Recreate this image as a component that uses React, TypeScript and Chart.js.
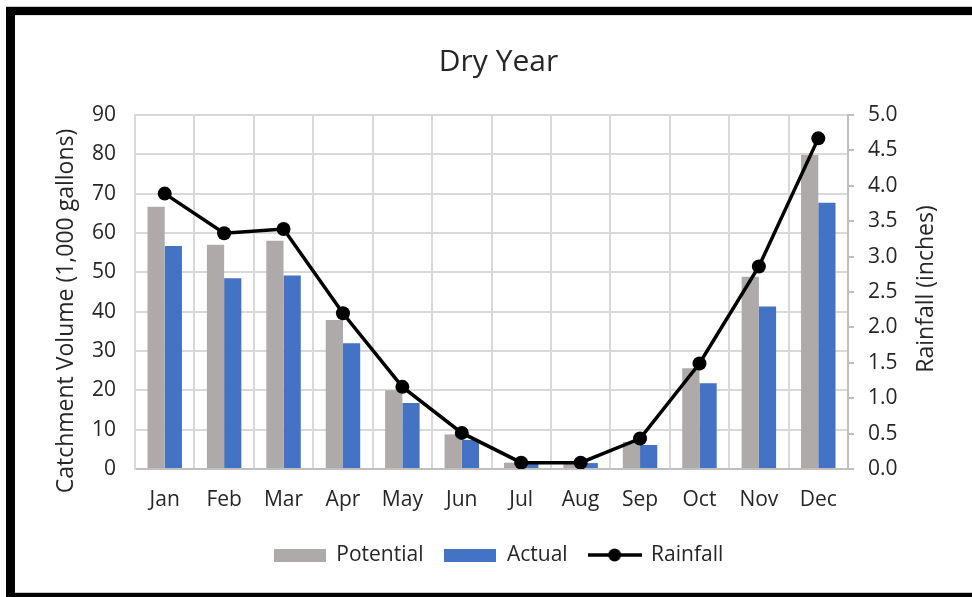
import React, { useEffect, useRef } from "react";
import { Chart, registerables } from "chart.js";

Chart.register(...registerables);

const months = ["Jan", "Feb", "Mar", "Apr", "May", "Jun", "Jul", "Aug", "Sep", "Oct", "Nov", "Dec"];
const potential = [66.7, 57, 58, 37.9, 20, 8.8, 1.6, 1.6, 6.9, 25.6, 48.9, 79.8];
const actual = [56.7, 48.5, 49.2, 32, 16.8, 7.4, 1.3, 1.5, 6.1, 21.8, 41.3, 67.7];
const rainfall = [3.89, 3.33, 3.39, 2.2, 1.16, 0.51, 0.09, 0.09, 0.43, 1.49, 2.86, 4.67];

const chartTitle = "Dry Year";
const leftTitle = "Catchment Volume (1,000 gallons)";
const rightTitle = "Rainfall (inches)";

const FONT = "'Open Sans', 'Noto Sans', sans-serif";
const TEXT = "#262626";
const GRID = "#D9D9D9";
const GRAY = "#ADAAA9";
const BLUE = "#4472C4";

function rectImage(color: string) {
  const c = document.createElement("canvas");
  c.width = 52;
  c.height = 13;
  const x = c.getContext("2d")!;
  x.fillStyle = color;
  x.fillRect(0, 0, 52, 13);
  return c;
}
function lineImage() {
  const c = document.createElement("canvas");
  c.width = 54;
  c.height = 14;
  const x = c.getContext("2d")!;
  x.strokeStyle = "#000";
  x.lineWidth = 3.5;
  x.beginPath();
  x.moveTo(0, 7);
  x.lineTo(54, 7);
  x.stroke();
  x.fillStyle = "#000";
  x.beginPath();
  x.arc(27, 7, 6.5, 0, Math.PI * 2);
  x.fill();
  return c;
}

const axisTitles = {
  id: "axisTitles",
  afterDraw(chart: any) {
    const { ctx, chartArea } = chart;
    const mid = (chartArea.top + chartArea.bottom) / 2;
    ctx.save();
    ctx.fillStyle = TEXT;
    ctx.font = `23px ${FONT}`;
    ctx.textAlign = "center";
    ctx.textBaseline = "middle";
    ctx.translate(chartArea.left - 69, mid + 19);
    ctx.rotate(-Math.PI / 2);
    ctx.fillText(leftTitle, 0, 0);
    ctx.restore();
    ctx.save();
    ctx.fillStyle = TEXT;
    ctx.font = `23px ${FONT}`;
    ctx.textAlign = "center";
    ctx.textBaseline = "middle";
    ctx.translate(chartArea.right + 78, mid - 3);
    ctx.rotate(-Math.PI / 2);
    ctx.fillText(rightTitle, 0, 0);
    ctx.restore();
  },
};

export default function App() {
  const ref = useRef<HTMLCanvasElement>(null);
  useEffect(() => {
    const imgs = [rectImage(GRAY), rectImage(BLUE), lineImage()];
    const chart = new Chart(ref.current!, {
      type: "bar",
      data: {
        labels: months,
        datasets: [
          { type: "bar", label: "Potential", data: potential, backgroundColor: GRAY, yAxisID: "y", order: 1, categoryPercentage: 0.58, barPercentage: 1 },
          { type: "bar", label: "Actual", data: actual, backgroundColor: BLUE, yAxisID: "y", order: 1, categoryPercentage: 0.58, barPercentage: 1 },
          { type: "line", label: "Rainfall", data: rainfall, borderColor: "#000", backgroundColor: "#000", borderWidth: 3.5, pointRadius: 7, pointBorderWidth: 0, pointBackgroundColor: "#000", yAxisID: "y1", order: 0 } as any,
        ],
      },
      options: {
        animation: false,
        responsive: false,
        maintainAspectRatio: false,
        layout: { padding: { left: 10, right: 0, top: 0, bottom: 16.5 } },
        plugins: {
          title: {
            display: true,
            text: chartTitle,
            color: TEXT,
            font: { family: FONT, size: 30, weight: "normal" },
            padding: { top: 28, bottom: 35 },
          },
          legend: {
            position: "bottom",
            labels: {
              usePointStyle: true,
              pointStyleWidth: 52,
              boxHeight: 14,
              padding: 21,
              color: TEXT,
              font: { family: FONT, size: 21 },
              generateLabels: (c: any) =>
                c.data.datasets.map((d: any, i: number) => ({
                  text: d.label,
                  pointStyle: imgs[i],
                  fillStyle: "transparent",
                  strokeStyle: "transparent",
                  lineWidth: 0,
                  fontColor: TEXT,
                  datasetIndex: i,
                  hidden: false,
                })),
            },
          },
          tooltip: { enabled: false },
        },
        scales: {
          x: {
            offset: true,
            grid: { offset: true, color: GRID, lineWidth: 2, drawTicks: false },
            border: { color: "#BFBFBF", width: 2 },
            ticks: { color: TEXT, font: { family: FONT, size: 21 }, padding: 18, maxRotation: 0 },
            afterFit: (s: any) => { s.height = 54.5; },
          },
          y: {
            position: "left",
            min: 0,
            max: 90,
            ticks: { stepSize: 10, color: TEXT, font: { family: FONT, size: 21 }, padding: 19 },
            grid: { color: GRID, lineWidth: 2, drawTicks: false },
            border: { color: GRID, width: 2 },
            afterFit: (s: any) => { s.width = 110; },
          },
          y1: {
            position: "right",
            min: 0,
            max: 5,
            ticks: { stepSize: 0.5, color: TEXT, font: { family: FONT, size: 21 }, padding: 14, callback: (v: any) => Number(v).toFixed(1) },
            grid: { drawOnChartArea: false, drawTicks: true, tickLength: 6, color: "#BFBFBF", lineWidth: 2 },
            border: { color: "#BFBFBF", width: 2 },
            afterFit: (s: any) => { s.width = 124; },
          },
        },
      },
      plugins: [axisTitles],
    });
    return () => chart.destroy();
  }, []);

  return (
    <div style={{ position: "absolute", left: 0, top: 0, width: 972, height: 597, overflow: "hidden", background: "#fff" }}>
      <div style={{ position: "absolute", left: 6, top: 6, width: 1000, height: 1, background: "#C8C8C8" }} />
      <div style={{ position: "absolute", left: 6, top: 7, width: 1000, height: 8, background: "#000" }} />
      <div style={{ position: "absolute", left: 6, top: 7, width: 9, height: 600, background: "#000" }} />
      <div style={{ position: "absolute", left: 6, top: 593, width: 1000, height: 10, background: "#000" }} />
      <div style={{ position: "absolute", left: 15, top: 15, width: 1000, height: 1, background: "#E0E0E0" }} />
      <div style={{ position: "absolute", left: 15, top: 592, width: 1000, height: 1, background: "#C8C8C8" }} />
      <canvas ref={ref} width={957} height={576} style={{ position: "absolute", left: 15, top: 16, width: 957, height: 576 }} />
    </div>
  );
}
